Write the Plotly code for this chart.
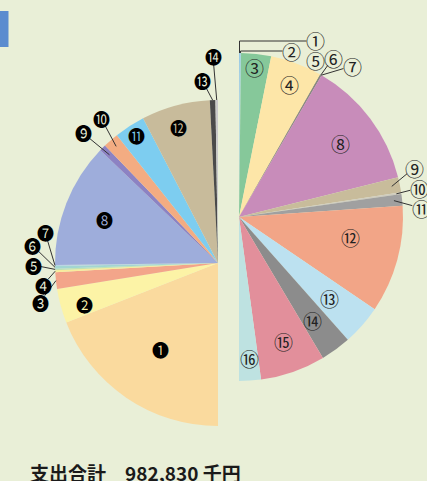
import math
import plotly.graph_objects as go

W, H = 427, 481

# ---- data (percent shares) ----
exp_labels = ["❶", "❷", "❸", "❹", "❺", "❻", "❼", "❽", "❾", "❿", "⓫", "⓬", "⓭", "⓮"]
exp_values = [38.1, 6.8, 3.3, 0.4, 0.3, 0.5, 0.2, 24.7, 1.3, 3.1, 6.1, 13.6, 1.1, 0.5]

rev_labels = ["①", "②", "③", "④", "⑤", "⑥", "⑦", "⑧", "⑨", "⑩", "⑪", "⑫", "⑬", "⑭", "⑮", "⑯"]
rev_values = [0.2, 0.2, 5.9, 10.2, 0.1, 0.1, 0.1, 25.4, 3.0, 0.3, 2.3, 21.2, 7.9, 6.0, 12.8, 4.3]

total_text = "支出合計　982,830 千円"

# ---- styles ----
BG = "#E9EFD7"
exp_colors = ["#FADA9E", "#FCF3A6", "#F3A58A", "#F8EC9C", "#BFE2B4", "#A3D6D2", "#B5D3E6",
              "#9EADDB", "#8C82C3", "#F3AC82", "#7DCDF0", "#C8BB9B", "#4A4A4A", "#C9C9C9"]
rev_colors = ["#9CCBE6", "#A9D5DF", "#86C89A", "#FDE6A8", "#5A5A5A", "#6A6A6A", "#5A5A5A",
              "#C88CBA", "#C8BC9B", "#CFCBBE", "#A0A0A0", "#F2A587", "#BCE1F0", "#8C8C8C",
              "#E28F9B", "#BEE2E1"]

L_CX, L_CY, L_R = 218, 263, 163
R_CX, R_CY, R_R = 239, 217, 164

exp_label_pos = [(160, 349), (84, 304), (40, 302), (43, 285), (33, 265), (32, 245), (45, 232),
                 (104, 219), (83, 133), (101, 118), (136, 135), (178, 127), (202, 80), (213, 57)]
exp_leader = [None, None, 1.0, 1.0, 1.0, 1.0, 1.0, None, 0.94, 0.95, None, None, 1.0, 1.0]

rev_label_pos = [(315, 41), (291, 51), (254, 67), (289, 84), (315, 61), (333, 58), (352, 66),
                 (340, 143), (414, 168), (419, 188), (421, 208), (350, 237), (329, 298),
                 (312, 320), (283, 341), (249, 358)]
rev_leader = ["bracket", "bracket", None, None, None, 1.0, 1.0, None, 0.95, 0.97, 0.95,
              None, None, None, None, None]


def px(x):
    return x / W


def py(y):
    return 1 - y / H


def half_pie(values, colors, cx, cy, r, rotation):
    total = sum(values)
    return go.Pie(
        values=values + [total],
        marker=dict(colors=colors + ["rgba(0,0,0,0)"], line=dict(width=0)),
        sort=False, direction="clockwise", rotation=rotation,
        textinfo="none", hoverinfo="skip", showlegend=False,
        domain=dict(x=[px(cx - r), px(cx + r)], y=[py(cy + r), py(cy - r)]),
    )


def mid_angles(values, start):
    total = sum(values)
    out, cum = [], 0
    for v in values:
        out.append(start + 180 * (cum + v / 2) / total)
        cum += v
    return out


def point(cx, cy, r, ang):
    a = math.radians(ang)
    return cx + r * math.sin(a), cy - r * math.cos(a)


fig = go.Figure()
fig.add_trace(half_pie(exp_values, exp_colors, L_CX, L_CY, L_R, 180))
fig.add_trace(half_pie(rev_values, rev_colors, R_CX, R_CY, R_R, 0))

shapes = []
annotations = []
LINE = dict(color="#333333", width=1)


def add_leader(lx, ly, ax, ay, gap=8):
    dx, dy = ax - lx, ay - ly
    d = math.hypot(dx, dy) or 1
    sx, sy = lx + gap * dx / d, ly + gap * dy / d
    shapes.append(dict(type="line", xref="paper", yref="paper", x0=px(sx), y0=py(sy),
                       x1=px(ax), y1=py(ay), line=LINE, layer="above"))


for lab, (lx, ly), lead, ang in zip(exp_labels, exp_label_pos, exp_leader,
                                    mid_angles(exp_values, 180)):
    if lead is not None:
        ax, ay = point(L_CX, L_CY, L_R * lead, ang)
        add_leader(lx, ly, ax, ay)
    annotations.append(dict(x=px(lx), y=py(ly), xref="paper", yref="paper", text=lab,
                            showarrow=False, xanchor="center", yanchor="middle",
                            font=dict(family="Noto Sans CJK JP", size=17, color="#000000")))

for lab, (lx, ly), lead, ang in zip(rev_labels, rev_label_pos, rev_leader,
                                    mid_angles(rev_values, 0)):
    if lead == "bracket":
        ax, ay = point(R_CX, R_CY, R_R, ang)
        path = "M {} {} L {} {} L {} {}".format(px(lx - 8.5), py(ly), px(ax), py(ly), px(ax), py(ay))
        shapes.append(dict(type="path", xref="paper", yref="paper", path=path, line=LINE,
                           layer="above"))
    elif lead is not None:
        ax, ay = point(R_CX, R_CY, R_R * lead, ang)
        add_leader(lx, ly, ax, ay, gap=9)
    annotations.append(dict(x=px(lx), y=py(ly), xref="paper", yref="paper", text=lab,
                            showarrow=False, xanchor="center", yanchor="middle",
                            font=dict(family="Noto Sans CJK JP", size=19, color="#222222")))

annotations.append(dict(x=px(28), y=py(472), xref="paper", yref="paper", text=total_text,
                        showarrow=False, xanchor="left", yanchor="middle",
                        font=dict(family="Noto Sans CJK JP", size=19, color="#1A1A1A",
                                  weight="bold")))

shapes.append(dict(type="rect", xref="paper", yref="paper", x0=px(0), x1=px(8.5),
                   y0=py(47), y1=py(11), fillcolor="#5B8CCF", line=dict(width=0), layer="above"))

fig.update_layout(
    width=W, height=H, margin=dict(l=0, r=0, t=0, b=0),
    paper_bgcolor=BG, plot_bgcolor=BG,
    shapes=shapes, annotations=annotations, showlegend=False,
)

fig.write_html("out.html", config={"displayModeBar": False},
               post_script="document.body.style.margin='0';"
                           "document.body.style.background='" + BG + "';")
